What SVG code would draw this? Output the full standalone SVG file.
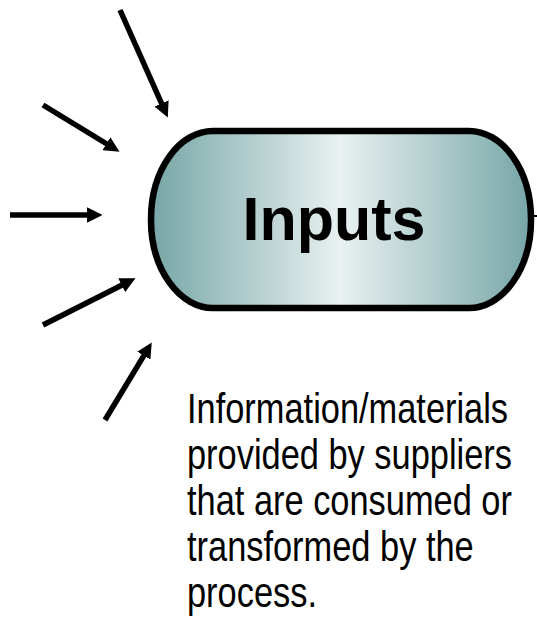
<svg xmlns="http://www.w3.org/2000/svg" width="537" height="636" viewBox="0 0 537 636">
  <defs>
    <linearGradient id="fill" x1="0" y1="0" x2="1" y2="0">
      <stop offset="0" stop-color="#77a6a6"/>
      <stop offset="0.5" stop-color="#e9f1f1"/>
      <stop offset="1" stop-color="#77a6a6"/>
    </linearGradient>
    <marker id="head" viewBox="0 0 10 10" refX="1" refY="5" markerWidth="2.8" markerHeight="2.8" orient="auto">
      <path d="M0,0 L10,5 L0,10 z" fill="#000"/>
    </marker>
  </defs>
  <style>
    .arrow { stroke: #000; stroke-width: 5.5; fill: none; marker-end: url(#head); }
    .title { font-family: "Liberation Sans", Arial, sans-serif; font-weight: bold; font-size: 61px; fill: #000; }
    .desc { font-family: "Liberation Sans", Arial, sans-serif; font-size: 43px; fill: #000; }
  </style>
  <rect width="537" height="636" fill="#fff"/>
  <g id="connectors">
    <line class="arrow" x1="120" y1="10" x2="162.2" y2="104.8"/>
    <line class="arrow" x1="43" y1="105" x2="107.7" y2="144.5"/>
    <line class="arrow" x1="10" y1="215" x2="88.6" y2="215"/>
    <line class="arrow" x1="43" y1="325" x2="123.1" y2="284.5"/>
    <line class="arrow" x1="105" y1="420" x2="144.6" y2="354.3"/>
    <line x1="532" y1="216" x2="537" y2="216" stroke="#000" stroke-width="2"/>
  </g>
  <g id="inputs">
    <rect x="151" y="131" width="380" height="177" rx="62" ry="88" fill="url(#fill)" stroke="#000" stroke-width="6.5"/>
    <text class="title" x="334" y="240" text-anchor="middle">Inputs</text>
  </g>
  <g id="description">
    <text class="desc" transform="translate(187,0) scale(0.8,1)">
      <tspan x="0" y="423">Information/materials</tspan>
      <tspan x="0" y="469">provided by suppliers</tspan>
      <tspan x="0" y="515">that are consumed or</tspan>
      <tspan x="0" y="561">transformed by the</tspan>
      <tspan x="0" y="607">process.</tspan>
    </text>
  </g>
</svg>
